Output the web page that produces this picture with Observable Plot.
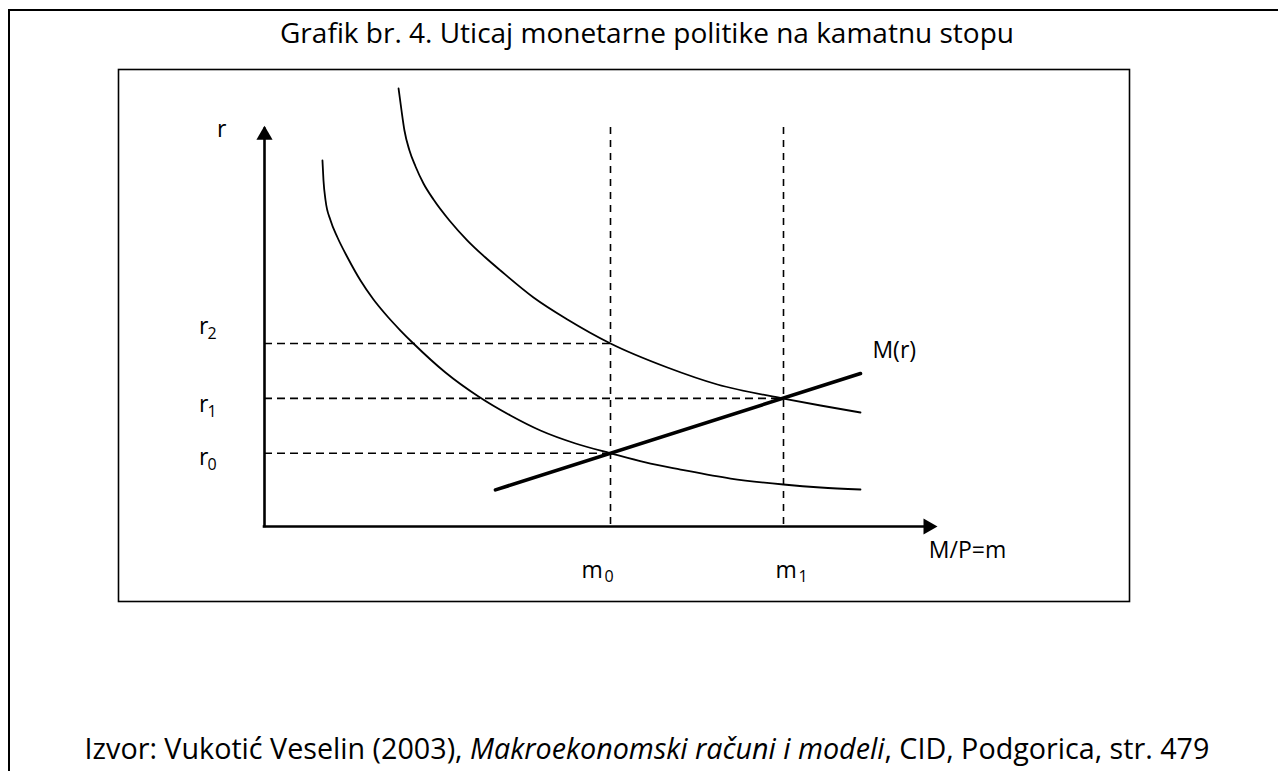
<!DOCTYPE html>
<html>
<head>
<meta charset="utf-8">
<script src="https://cdn.jsdelivr.net/npm/d3@7"></script>
<script src="https://cdn.jsdelivr.net/npm/@observablehq/plot@0.6"></script>
<style>
html, body { margin: 0; padding: 0; width: 1278px; height: 771px; overflow: hidden; background: #fff; font-family: "Open Sans", sans-serif; color: #000; }
#outer { position: absolute; left: 8px; top: 9px; width: 1320px; height: 820px; border: 2.5px solid #000; box-sizing: border-box; }
#title { position: absolute; left: 0; width: 1294px; top: 13px; text-align: center; font-size: 28px; line-height: 38px; white-space: nowrap; }
#chart { position: absolute; left: 116px; top: 67px; }
#caption { position: absolute; left: 0; width: 1294px; top: 729px; text-align: center; font-size: 28.7px; line-height: 38px; white-space: nowrap; }
</style>
</head>
<body>
<div id="outer"></div>
<div id="title">Grafik br. 4. Uticaj monetarne politike na kamatnu stopu</div>
<div id="chart"></div>
<div id="caption">Izvor: Vukotić Veselin (2003), <i>Makroekonomski računi i modeli</i>, CID, Podgorica, str. 479</div>
<script>
// ---- data (m on x, r on y) ----
const mValues = [2, 3];               // m0, m1
const mSubs = ["0", "1"];
const rValues = [2, 3.5, 5];          // r0, r1, r2
const rSubs = ["0", "1", "2"];
const rDashEnd = [2, 3, 2];           // m where each r guide ends
const dashTop = 10.9;                 // top of the vertical guides
const yAxisTop = 10.95;
const xAxisEnd = 3.89;

// money demand, lower curve
const lowX = [0.335, 0.341, 0.353, 0.382, 0.422, 0.480, 0.555, 0.630, 0.711, 0.786, 0.861, 1.046, 1.237, 1.422, 1.595, 1.798, 2.0, 2.202, 2.405, 2.694, 3.0, 3.214, 3.445];
const lowY = [10.0, 9.454, 8.907, 8.361, 7.896, 7.350, 6.721, 6.202, 5.738, 5.355, 5.0, 4.208, 3.552, 3.033, 2.623, 2.268, 2.0, 1.749, 1.557, 1.311, 1.148, 1.066, 1.011];
// money demand, upper curve
const highX = [0.775, 0.792, 0.809, 0.838, 0.873, 0.919, 0.977, 1.069, 1.173, 1.277, 1.364, 1.555, 1.751, 2.0, 2.329, 2.618, 3.0, 3.214, 3.445];
const highY = [11.967, 11.366, 10.820, 10.273, 9.836, 9.372, 8.934, 8.361, 7.814, 7.350, 6.995, 6.257, 5.656, 5.0, 4.344, 3.880, 3.497, 3.306, 3.115];
// M(r) line
const mrX = [1.335, 3.445];
const mrY = [1.0, 4.18];

// label positions
const rLabelX = -0.379;
const rLabelY = [1.67, 3.12, 5.27];
const mLabelX = [1.832, 2.954];
const mLabelY = -1.42;
const axisLabels = ["r", "M/P=m", "M(r)"];
const axisLabelX = [-0.275, 3.84, 3.514];
const axisLabelY = [10.64, -0.855, 4.60];

// ---- tables ----
const low = lowX.map((x, i) => ({x, y: lowY[i]}));
const high = highX.map((x, i) => ({x, y: highY[i]}));
const mr = mrX.map((x, i) => ({x, y: mrY[i]}));
const rGuides = rValues.map((r, i) => ({r, end: rDashEnd[i], sub: rSubs[i], ly: rLabelY[i]}));
const mGuides = mValues.map((m, i) => ({m, sub: mSubs[i], lx: mLabelX[i]}));
const labels = axisLabels.map((t, i) => ({t, x: axisLabelX[i], y: axisLabelY[i]}));

const txt = {textAnchor: "start", lineAnchor: "bottom", fill: "#000"};

const chart = Plot.plot({
  width: 1015,
  height: 536,
  marginTop: 2, marginRight: 2, marginBottom: 2, marginLeft: 2,
  x: {domain: [0, 5], range: [148, 1013], axis: null},
  y: {domain: [0, 12], range: [459, 19.8], axis: null},
  style: {fontFamily: "Open Sans", fontSize: "23px", color: "#000", background: "transparent"},
  marks: [
    Plot.frame({stroke: "#000", strokeWidth: 1.6}),
    // guides
    Plot.ruleX(mGuides, {x: "m", y1: dashTop, y2: 0, stroke: "#000", strokeWidth: 1.6, strokeDasharray: "7,6"}),
    Plot.ruleY(rGuides, {y: "r", x1: 0, x2: "end", stroke: "#000", strokeWidth: 1.6, strokeDasharray: "8,5"}),
    // curves
    Plot.line(low, {x: "x", y: "y", curve: "monotone-x", stroke: "#000", strokeWidth: 1.8}),
    Plot.line(high, {x: "x", y: "y", curve: "monotone-x", stroke: "#000", strokeWidth: 1.8}),
    Plot.line(mr, {x: "x", y: "y", stroke: "#000", strokeWidth: 3.6}),
    // axes
    Plot.ruleX([0], {x: d => d, y1: 0, y2: yAxisTop - 0.1, stroke: "#000", strokeWidth: 2.6, strokeLinecap: "square"}),
    Plot.ruleY([0], {y: d => d, x1: 0, x2: xAxisEnd - 0.02, stroke: "#000", strokeWidth: 2.6, strokeLinecap: "square"}),
    Plot.dot([yAxisTop], {x: () => 0, y: d => d, symbol: "triangle", r: 6, fill: "#000", stroke: null, dy: 9.3}),
    Plot.dot([xAxisEnd], {x: d => d, y: () => 0, symbol: "triangle", r: 6, fill: "#000", stroke: null, rotate: 90, dx: -9.3}),
    // labels with subscripts
    Plot.text(rGuides, {...txt, x: () => rLabelX, y: "ly", text: () => "r", fontSize: 23}),
    Plot.text(rGuides, {...txt, x: () => rLabelX, y: "ly", text: "sub", fontSize: 16, dx: 8.5, dy: 5}),
    Plot.text(mGuides, {...txt, x: "lx", y: () => mLabelY, text: () => "m", fontSize: 23}),
    Plot.text(mGuides, {...txt, x: "lx", y: () => mLabelY, text: "sub", fontSize: 16, dx: 23, dy: 4}),
    Plot.text(labels, {...txt, x: "x", y: "y", text: "t", fontSize: 23})
  ]
});
document.getElementById("chart").appendChild(chart);
</script>
</body>
</html>
